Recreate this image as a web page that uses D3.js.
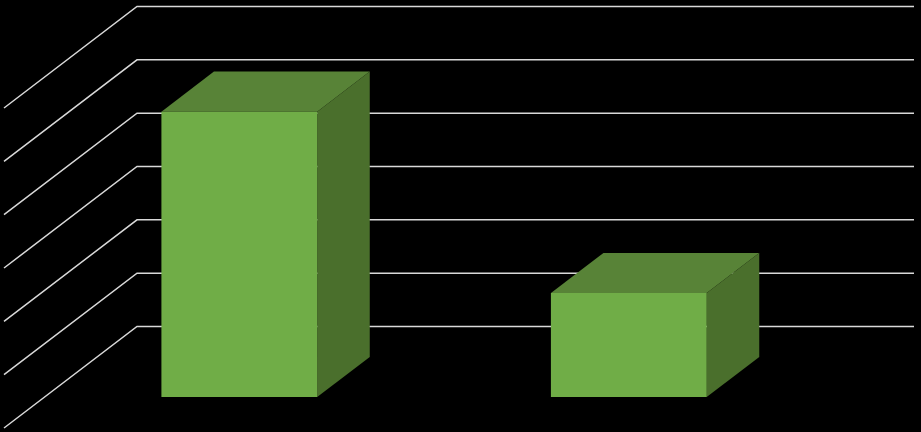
<!DOCTYPE html>
<html>
<head>
<meta charset="utf-8">
<script src="https://cdn.jsdelivr.net/npm/d3@7"></script>
<style>
  html, body { margin: 0; padding: 0; background: #000; }
  svg { display: block; }
</style>
</head>
<body>
<div id="chart"></div>
<script>
// Data
const categories = ["Category 1", "Category 2"];
const values = [5.35, 1.95];
const axisMax = 6;

// Dimensions
const width = 921;
const height = 432;
const floorFront = 428;   // y of value 0 on the front plane
const frontLeft = 4;
const frontRight = 783;
const gridRight = 781;    // back wall lines end a touch earlier
const depthDX = 133;      // oblique shift from front to back wall
const depthDY = -101.5;
const barDepth = [0.305, 0.70]; // bars sit between these depth fractions

const svg = d3.select("#chart")
  .append("svg")
  .attr("width", width)
  .attr("height", height)
  .style("background", "#000");

// Scales
const xScale = d3.scaleBand()
  .domain(categories)
  .range([frontLeft, frontRight])
  .paddingInner(0.6)
  .paddingOuter(0.3);

const yScale = d3.scaleLinear()
  .domain([0, axisMax])
  .range([0, 320]);

const depthX = d3.scaleLinear().domain([0, 1]).range([0, depthDX]);
const depthY = d3.scaleLinear().domain([0, 1]).range([0, depthDY]);

// project a point (front x, value, depth) to screen
const proj = (x, v, t) => [x + depthX(t), floorFront - yScale(v) + depthY(t)];

// Gridlines: side wall diagonal + back wall horizontal
svg.append("g")
  .selectAll("path")
  .data(yScale.ticks(axisMax))
  .enter()
  .append("path")
  .attr("d", d => d3.line()([
    proj(frontLeft, d, 0),
    proj(frontLeft, d, 1),
    proj(gridRight, d, 1)
  ]))
  .attr("fill", "none")
  .attr("stroke", "#d9d9d9")
  .attr("stroke-width", 1.5);

// Bars
const bars = svg.append("g")
  .selectAll("g")
  .data(values)
  .enter()
  .append("g");

const [t0, t1] = barDepth;

// top face
bars.append("path")
  .attr("d", (d, i) => {
    const x0 = xScale(categories[i]);
    const x1 = x0 + xScale.bandwidth();
    return d3.line()([proj(x0, d, t0), proj(x1, d, t0), proj(x1, d, t1), proj(x0, d, t1)]) + "Z";
  })
  .attr("fill", "#588337");

// right side face
bars.append("path")
  .attr("d", (d, i) => {
    const x1 = xScale(categories[i]) + xScale.bandwidth();
    return d3.line()([proj(x1, 0, t0), proj(x1, d, t0), proj(x1, d, t1), proj(x1, 0, t1)]) + "Z";
  })
  .attr("fill", "#4a6f2c");

// front face
bars.append("path")
  .attr("d", (d, i) => {
    const x0 = xScale(categories[i]);
    const x1 = x0 + xScale.bandwidth();
    return d3.line()([proj(x0, 0, t0), proj(x0, d, t0), proj(x1, d, t0), proj(x1, 0, t0)]) + "Z";
  })
  .attr("fill", "#70ad47");
</script>
</body>
</html>
